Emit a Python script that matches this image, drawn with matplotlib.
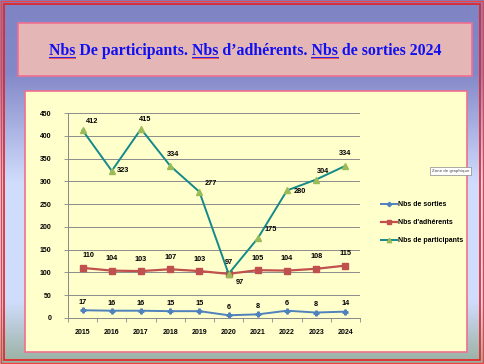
import numpy as np
import matplotlib
matplotlib.use("Agg")
import matplotlib.pyplot as plt
from matplotlib.patches import Rectangle
from matplotlib.colors import LinearSegmentedColormap

years = ["2015", "2016", "2017", "2018", "2019", "2020", "2021", "2022", "2023", "2024"]
sorties = [17, 16, 16, 15, 15, 6, 8, 16, 12, 14]
sorties_labels = ["17", "16", "16", "15", "15", "6", "8", "6", "8", "14"]
adherents = [110, 104, 103, 107, 103, 97, 105, 104, 108, 115]
participants = [412, 323, 415, 334, 277, 97, 175, 280, 304, 334]
y_ticks = [0, 50, 100, 150, 200, 250, 300, 350, 400, 450]
title = "Nbs De participants. Nbs d\u2019adhérents. Nbs de sorties 2024"
legend_labels = ["Nbs de sorties", "Nbs d'adhérents", "Nbs de participants"]

W, H = 484, 364
fig = plt.figure(figsize=(W / 100, H / 100), dpi=100)

# background gradient
bg = fig.add_axes([0, 0, 1, 1])
bg.set_xlim(0, W)
bg.set_ylim(H, 0)
bg.axis("off")
cmap = LinearSegmentedColormap.from_list(
    "bg",
    [(0.0, "#7F84C5"), (0.2, "#8388C8"), (0.5, "#D0DCFC"), (0.83, "#D0DCFC"), (1.0, "#98B0A0")],
)
grad = np.linspace(0, 1, 256).reshape(-1, 1)
bg.imshow(grad, cmap=cmap, aspect="auto", extent=[0, W, H, 0], zorder=0)

# red double frame
bg.add_patch(Rectangle((1, 1), W - 2.5, H - 2.5, fill=False, ec="#F04040", lw=1.0, zorder=1))
bg.add_patch(Rectangle((4, 4), W - 8.5, H - 8.5, fill=False, ec="#E82020", lw=1.2, zorder=1))

# title box
bg.add_patch(Rectangle((18, 23), 454, 53, fc="#E5B6B6", ec="#F07090", lw=1.2, zorder=2))
title_kw = dict(color="#1010F0", fontsize=11.4, fontweight="bold", family="Liberation Serif")
t = bg.text(245, 51, title, ha="center", va="center", zorder=3, **title_kw)

# underline the "Nbs" words (spell-check style)
renderer = fig.canvas.get_renderer()
full_bb = t.get_window_extent(renderer)
inv = bg.transData.inverted()
x0 = inv.transform((full_bb.x0, 0))[0]
start = 0
while True:
    idx = title.find("Nbs", start)
    if idx < 0:
        break
    tmp_pre = bg.text(0, 0, title[:idx], **title_kw)
    tmp_w = bg.text(0, 0, title[:idx + 3], **title_kw)
    wp = tmp_pre.get_window_extent(renderer).width if idx > 0 else 0
    ww = tmp_w.get_window_extent(renderer).width
    tmp_pre.remove()
    tmp_w.remove()
    xa = x0 + wp
    xb = x0 + ww
    bg.plot([xa, xb], [57.2, 57.2], color="#2020F0", lw=0.7, zorder=4)
    bg.plot([xa, xb], [58.4, 58.4], color="#F05050", lw=0.7, zorder=4)
    start = idx + 3

# chart area
bg.add_patch(Rectangle((25, 91), 442, 261, fc="#FFFFCC", ec="#F07090", lw=1.2, zorder=2))

# tooltip
bg.text(432, 171, "Zone de graphique", fontsize=2.8, color="#404040", va="center", ha="left",
        bbox=dict(boxstyle="square,pad=0.4", fc="white", ec="#888888", lw=0.5), zorder=5)

# plot axes
ax = fig.add_axes([68 / W, (H - 318) / H, (360 - 68) / W, (318 - 113) / H])
ax.set_facecolor("none")
x = np.arange(len(years))
ax.set_xlim(-0.5, len(years) - 0.5)
ax.set_ylim(0, 450)
ax.set_yticks(y_ticks)
ax.set_yticklabels([str(v) for v in y_ticks], fontsize=5, fontweight="bold", family="Liberation Sans")
ax.set_xticks(x)
ax.set_xticklabels(years, fontsize=5, fontweight="bold", family="Liberation Sans")
ax.set_xticks(np.arange(-0.5, len(years)), minor=True)
ax.tick_params(axis="x", which="major", length=0, pad=8)
ax.tick_params(axis="x", which="minor", length=3, color="#888888", width=0.6)
ax.tick_params(axis="y", length=3, color="#888888", width=0.6, pad=9)
ax.yaxis.grid(True, color="#8C8C8C", lw=0.7)
ax.set_axisbelow(True)
for s in ["top", "right"]:
    ax.spines[s].set_visible(False)
for s in ["left", "bottom"]:
    ax.spines[s].set_color("#888888")
    ax.spines[s].set_linewidth(0.7)

l1, = ax.plot(x, sorties, color="#4F81BD", lw=1.4, marker="P", ms=3.5, mfc="#4F81BD", mec="#4F81BD")
l2, = ax.plot(x, adherents, color="#C0504D", lw=1.6, marker="s", ms=4, mfc="#C0504D", mec="#C0504D")
l3, = ax.plot(x, participants, color="#138A8A", lw=1.4, marker="^", ms=4, mfc="#9BBB59", mec="#9BBB59")

lab_kw = dict(fontsize=5.3, fontweight="bold", family="Liberation Sans", ha="center", va="center", color="black")
for i, lab in enumerate(sorties_labels):
    ax.annotate(lab, (x[i], sorties[i]), xytext=(0, 5.5), textcoords="offset points", **lab_kw)
for i, v in enumerate(adherents):
    dx = 4 if i == 0 else 0
    if i == 5:
        ax.annotate(str(v), (x[i], v), xytext=(8, -6), textcoords="offset points", **lab_kw)
    else:
        ax.annotate(str(v), (x[i], v), xytext=(dx, 8.6), textcoords="offset points", **lab_kw)
p_off = [(6.5, 6.5), (8, 0), (3, 7), (2, 8), (8, 6), (0, 8), (9, 6), (9, -1), (5, 6), (0, 9)]
for i, v in enumerate(participants):
    ax.annotate(str(v), (x[i], v), xytext=p_off[i], textcoords="offset points", **lab_kw)

leg = fig.legend([l1, l2, l3], legend_labels, loc="upper left", bbox_to_anchor=(375 / W, 1 - 195 / H),
                 frameon=False, prop=dict(size=5, weight="bold", family="Liberation Sans"),
                 handlelength=2.2, handletextpad=0.2, labelspacing=1.6, markerscale=0.8)

fig.savefig("out.png", dpi=100)
